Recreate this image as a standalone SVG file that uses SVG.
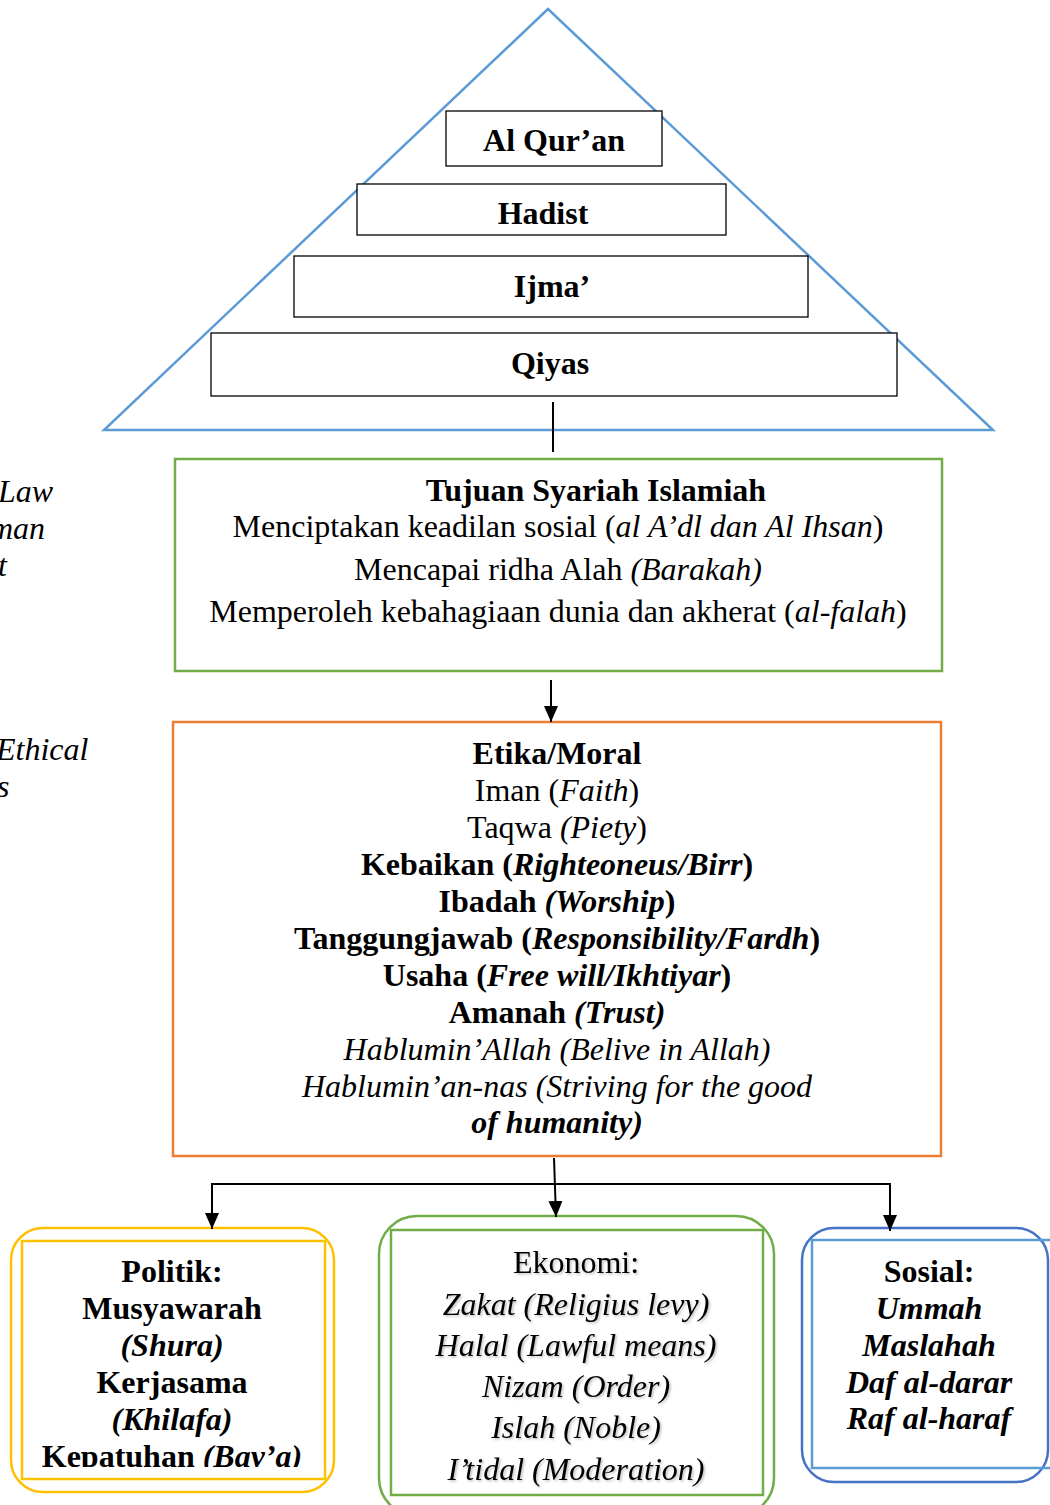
<svg xmlns="http://www.w3.org/2000/svg" width="1050" height="1505" viewBox="0 0 1050 1505">
  <style>
    text { font-family: "Liberation Serif", "Times New Roman", serif; fill: #000; }
    .t { font-size: 32px; text-anchor: middle; }
    .b { font-weight: bold; }
    .i { font-style: italic; }
    .step { fill: #fff; stroke: #000; stroke-width: 1.3; }
    .line { fill: none; stroke: #000; stroke-width: 2; }
  </style>
  <defs>
    <marker id="arrow" markerWidth="16" markerHeight="14" refX="16" refY="7" orient="auto" markerUnits="userSpaceOnUse" viewBox="0 0 16 14">
      <path d="M0,0 L16,7 L0,14 Z" fill="#000"/>
    </marker>
    <clipPath id="politikClip">
      <rect x="22" y="1241" width="303" height="226"/>
    </clipPath>
    <filter id="soft" x="-5%" y="-20%" width="110%" height="140%">
      <feDropShadow dx="1.5" dy="1.5" stdDeviation="1" flood-color="#000" flood-opacity="0.25"/>
    </filter>
  </defs>

  <rect width="1050" height="1505" fill="#fff"/>

  <!-- side notes running off the left edge -->
  <g id="side-notes" class="i" font-size="32">
    <text x="-2" y="502">Law</text>
    <text x="-10" y="539">man</text>
    <text x="-2" y="576">t</text>
    <text x="-4" y="760">Ethical</text>
    <text x="-3" y="797">s</text>
  </g>

  <!-- sources of law pyramid -->
  <g id="pyramid">
    <polygon points="548,9 104,430 993,430" fill="none" stroke="#5b9bd5" stroke-width="2.5"/>
  </g>
  <g id="alquran">
    <rect class="step" x="446" y="111" width="216" height="55"/>
    <text class="t b" x="554" y="151">Al Qur’an</text>
  </g>
  <g id="hadist">
    <rect class="step" x="357" y="184" width="369" height="51"/>
    <text class="t b" x="543" y="224">Hadist</text>
  </g>
  <g id="ijma">
    <rect class="step" x="294" y="256" width="514" height="61"/>
    <text class="t b" x="552" y="297">Ijma’</text>
  </g>
  <g id="qiyas">
    <rect class="step" x="211" y="333" width="686" height="63"/>
    <text class="t b" x="550" y="374">Qiyas</text>
  </g>

  <!-- goals of sharia -->
  <g id="tujuan">
    <rect x="175" y="459" width="767" height="212" fill="#fff" stroke="#70ad47" stroke-width="2.5"/>
    <text class="t b" x="596" y="501">Tujuan Syariah Islamiah</text>
    <text class="t" x="558" y="537">Menciptakan keadilan sosial (<tspan class="i">al A’dl dan Al Ihsan</tspan>)</text>
    <text class="t" x="558" y="580">Mencapai ridha Alah <tspan class="i">(Barakah)</tspan></text>
    <text class="t" x="558" y="622">Memperoleh kebahagiaan dunia dan akherat (<tspan class="i">al-falah</tspan>)</text>
  </g>

  <!-- ethics -->
  <g id="etika">
    <rect x="173" y="722" width="768" height="434" fill="#fff" stroke="#ed7d31" stroke-width="2.5"/>
    <text class="t b" x="557" y="764">Etika/Moral</text>
    <text class="t" x="557" y="801">Iman (<tspan class="i">Faith</tspan>)</text>
    <text class="t" x="557" y="838">Taqwa <tspan class="i">(Piety</tspan>)</text>
    <text class="t b" x="557" y="875">Kebaikan (<tspan class="i">Righteoneus/Birr</tspan>)</text>
    <text class="t b" x="557" y="912">Ibadah <tspan class="i">(Worship</tspan>)</text>
    <text class="t b" x="557" y="949">Tanggungjawab (<tspan class="i">Responsibility/Fardh</tspan>)</text>
    <text class="t b" x="557" y="986">Usaha (<tspan class="i">Free will/Ikhtiyar</tspan>)</text>
    <text class="t b" x="557" y="1023">Amanah <tspan class="i">(Trust)</tspan></text>
    <text class="t i" x="557" y="1060">Hablumin’Allah (Belive in Allah)</text>
    <text class="t i" x="557" y="1097">Hablumin’an-nas (Striving for the good</text>
    <text class="t b i" x="557" y="1133">of humanity)</text>
  </g>

  <!-- politics -->
  <g id="politik">
    <rect x="11" y="1228" width="323" height="264" rx="32" fill="none" stroke="#ffc000" stroke-width="2.5"/>
    <rect x="22" y="1241" width="303" height="238" fill="none" stroke="#ffc000" stroke-width="2.5"/>
    <g clip-path="url(#politikClip)">
      <text class="t b" x="172" y="1282">Politik:</text>
      <text class="t b" x="172" y="1319">Musyawarah</text>
      <text class="t b i" x="172" y="1356">(Shura)</text>
      <text class="t b" x="172" y="1393">Kerjasama</text>
      <text class="t b i" x="172" y="1430">(Khilafa)</text>
      <text class="t b" x="172" y="1467">Kepatuhan <tspan class="i">(Bay’a)</tspan></text>
    </g>
  </g>

  <!-- economy -->
  <g id="ekonomi">
    <rect x="379" y="1216" width="395" height="300" rx="38" fill="none" stroke="#70ad47" stroke-width="2.5"/>
    <rect x="391" y="1230" width="372" height="265" fill="none" stroke="#70ad47" stroke-width="2.5"/>
    <g filter="url(#soft)">
      <text class="t" x="576" y="1273">Ekonomi:</text>
      <text class="t i" x="576" y="1315">Zakat (Religius levy)</text>
      <text class="t i" x="576" y="1356">Halal (Lawful means)</text>
      <text class="t i" x="576" y="1397">Nizam (Order)</text>
      <text class="t i" x="576" y="1438">Islah (Noble)</text>
      <text class="t i" x="576" y="1480">I’tidal (Moderation)</text>
    </g>
  </g>

  <!-- social -->
  <g id="sosial">
    <rect x="802" y="1228" width="246" height="254" rx="32" fill="none" stroke="#4472c4" stroke-width="2.5"/>
    <rect x="812" y="1240" width="240" height="228" fill="none" stroke="#5b9bd5" stroke-width="2.5"/>
    <text class="t b" x="929" y="1282">Sosial:</text>
    <text class="t b i" x="929" y="1319">Ummah</text>
    <text class="t b i" x="929" y="1356">Maslahah</text>
    <text class="t b i" x="929" y="1393">Daf al-darar</text>
    <text class="t b i" x="929" y="1429">Raf al-haraf</text>
  </g>

  <!-- connectors -->
  <g id="connectors">
    <line class="line" x1="553" y1="402" x2="553" y2="452"/>
    <line class="line" x1="551" y1="680" x2="551" y2="722" marker-end="url(#arrow)"/>
    <line class="line" x1="554" y1="1158" x2="556" y2="1217" marker-end="url(#arrow)"/>
    <polyline class="line" points="212,1200 212,1184 890,1184 890,1200"/>
    <line class="line" x1="212" y1="1183" x2="212" y2="1229" marker-end="url(#arrow)"/>
    <line class="line" x1="890" y1="1183" x2="890" y2="1231" marker-end="url(#arrow)"/>
  </g>
</svg>
